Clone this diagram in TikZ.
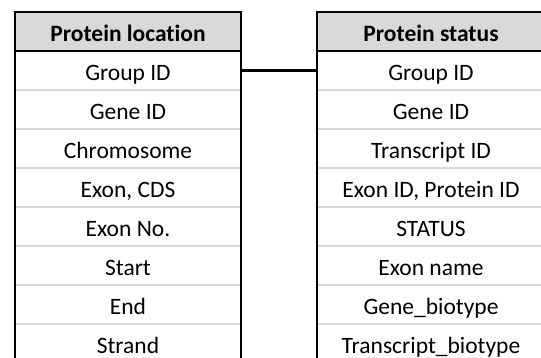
\documentclass[tikz,border=0pt]{standalone}
\usepackage{fontspec}
\setmainfont{Carlito}[Ligatures=NoCommon]
\definecolor{headgray}{HTML}{D9D9D9}
\definecolor{sepgray}{HTML}{D9D9D9}
\tikzset{
  basecell/.style={rectangle, inner sep=0pt, minimum height=39pt,
    text height=20pt, text depth=0pt, font=\fontsize{23.5}{28}\selectfont},
  lcell/.style={basecell, minimum width=226pt},
  rcell/.style={basecell, minimum width=228pt},
  headcell/.style={fill=headgray, font=\fontsize{23.5}{28}\selectfont\bfseries},
  border/.style={draw=black, line width=2pt},
  sepline/.style={draw=sepgray, line width=1.6pt},
  link/.style={draw=black, line width=2.2pt}
}
\begin{document}
\begin{tikzpicture}[x=1pt,y=-1pt]
\useasboundingbox (0,0) rectangle (541,358);
\clip (0,0) rectangle (541,358);
% left table
\node[lcell, headcell] (L0) at (128,31.5) {Protein location};
\foreach \t [count=\i from 1] in {Group ID, Gene ID, Chromosome, {Exon, CDS}, Exon No., Start, End, Strand}
  \node[lcell] (L\i) at (128,31.5+39*\i) {\t};
% right table
\node[rcell, headcell] (R0) at (431,31.5) {Protein status};
\foreach \t [count=\i from 1] in {Group ID, Gene ID, Transcript ID, {Exon ID, Protein ID}, STATUS, Exon name, Gene\_biotype, Transcript\_biotype}
  \node[rcell] (R\i) at (431,31.5+39*\i) {\t};
% separators
\foreach \i in {1,...,7} {
  \draw[sepline] (L\i.south west) -- (L\i.south east);
  \draw[sepline] (R\i.south west) -- (R\i.south east);
}
% header lines and borders
\draw[border] (L0.south west) -- (L0.south east);
\draw[border] (R0.south west) -- (R0.south east);
\draw[border] (L0.north west) rectangle (L8.south east);
\draw[border] (R0.north west) rectangle (R8.south east);
% connector
\draw[link] (L1.east) -- (R1.west);
\end{tikzpicture}
\end{document}
